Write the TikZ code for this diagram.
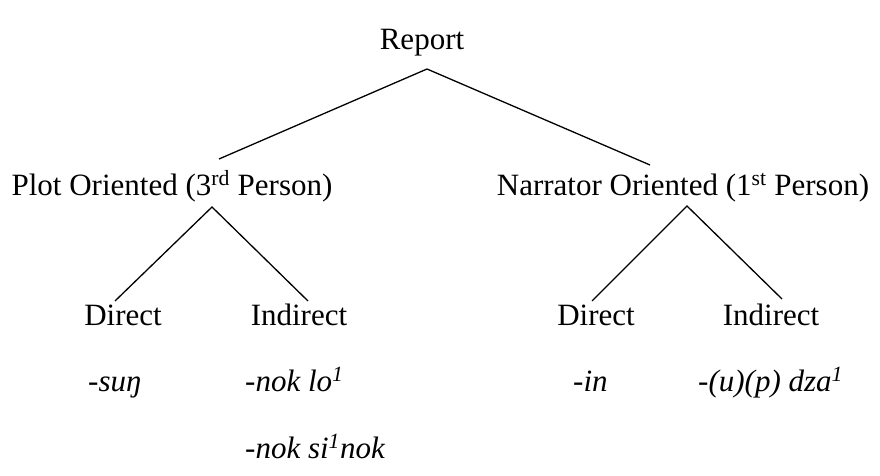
\documentclass[tikz,border=0pt]{standalone}
\usepackage{fontspec}
\setmainfont{Liberation Serif}
\begin{document}
\begin{tikzpicture}[x=1pt, y=-1pt,
  label/.style={anchor=base, inner sep=0pt, font=\fontsize{31}{36}\selectfont},
  form/.style={anchor=base west, inner sep=0pt, font=\fontsize{31}{36}\selectfont\itshape},
  branch/.style={line width=1.3pt}]
  \useasboundingbox (0, 0) rectangle (880, 476);

  % top level
  \node[label] (report) at (422, 50) { Report };
  \coordinate (reporttop) at (427, 69);
  \coordinate (plotend) at (219, 159);
  \coordinate (narrend) at (650, 165);
  \draw[branch] (plotend) -- (reporttop) -- (narrend);

  \node[label] (plot) at (172, 195) { Plot Oriented (3\textsuperscript{rd} Person) };
  \node[label] (narr) at (683, 195) { Narrator Oriented (1\textsuperscript{st} Person) };

  % second level
  \coordinate (plottop) at (212, 207);
  \coordinate (narrtop) at (687, 206);
  \coordinate (pdirend) at (115, 301);
  \coordinate (pindend) at (308, 301);
  \coordinate (ndirend) at (592, 301);
  \coordinate (nindend) at (782, 299);
  \draw[branch] (pdirend) -- (plottop) -- (pindend);
  \draw[branch] (ndirend) -- (narrtop) -- (nindend);

  \node[label] (pdirect) at (123, 325) { Direct };
  \node[label] (pindirect) at (299, 325) { Indirect };
  \node[label] (ndirect) at (596, 325) { Direct };
  \node[label] (nindirect) at (771, 325) { Indirect };

  % forms
  \node[form] (sung) at (88, 391) { -suŋ };
  \node[form] (noklo) at (245, 391) { -nok lo\textsuperscript{1} };
  \node[form] (noksi) at (245, 458) { -nok si\textsuperscript{1}nok };
  \node[form] (in) at (573, 391) { -in };
  \node[form] (dza) at (698, 391) { -(u)(p) dza\textsuperscript{1} };
\end{tikzpicture}
\end{document}
